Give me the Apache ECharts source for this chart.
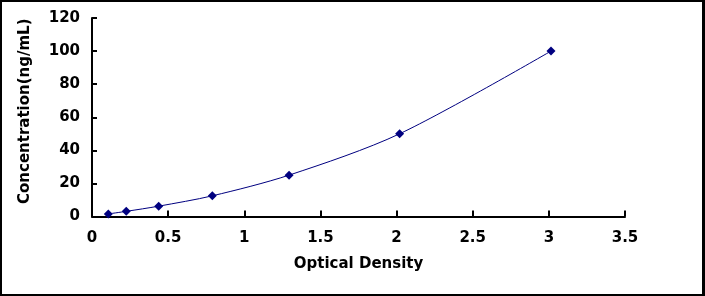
<!DOCTYPE html>
<html>
<head>
<meta charset="utf-8">
<script src="https://cdn.jsdelivr.net/npm/echarts@6/dist/echarts.min.js"></script>
<style>
html,body{margin:0;padding:0;background:#fff;}
#wrap{position:relative;width:705px;height:296px;}
#chart{position:absolute;left:0;top:0;width:705px;height:296px;}
#frame{position:absolute;left:0;top:0;width:705px;height:296px;box-sizing:border-box;border:2px solid #000;border-right-width:3px;pointer-events:none;}
</style>
</head>
<body>
<div id="wrap"><div id="chart"></div><div id="frame"></div></div>
<script>
var opticalDensity = [0.107, 0.225, 0.438, 0.79, 1.294, 2.02, 3.014];
var concentration = [1.56, 3.12, 6.25, 12.5, 25, 50, 100];
var xTitle = 'Optical Density';
var yTitle = 'Concentration(ng/mL)';

var points = opticalDensity.map(function (x, i) { return [x, concentration[i]]; });
var font = 'DejaVu Sans';
var chart = echarts.init(document.getElementById('chart'), null, {renderer: 'canvas'});
chart.setOption({
  animation: false,
  backgroundColor: '#fff',
  grid: {left: 92, right: 80, top: 18, bottom: 79.5, containLabel: false},
  xAxis: {
    type: 'value', min: 0, max: 3.5, interval: 0.5,
    name: xTitle, nameLocation: 'middle', nameGap: 40,
    nameTextStyle: {fontFamily: font, fontWeight: 'bold', fontSize: 15, color: '#000'},
    axisLine: {show: true, lineStyle: {color: '#000', width: 2}},
    axisTick: {show: true, inside: true, length: 6, lineStyle: {color: '#000', width: 2}},
    axisLabel: {fontFamily: font, fontWeight: 'bold', fontSize: 15, color: '#000', margin: 14},
    splitLine: {show: false}
  },
  yAxis: {
    type: 'value', min: 0, max: 120, interval: 20,
    name: yTitle, nameLocation: 'middle', nameGap: 59,
    nameTextStyle: {fontFamily: font, fontWeight: 'bold', fontSize: 15, color: '#000', padding: [0, 0, 0, 12]},
    axisLine: {show: true, lineStyle: {color: '#000', width: 2}},
    axisTick: {show: true, inside: true, length: 5, lineStyle: {color: '#000', width: 2}},
    axisLabel: {fontFamily: font, fontWeight: 'bold', fontSize: 15, color: '#000', margin: 12},
    splitLine: {show: false}
  },
  series: [{
    type: 'line',
    data: points,
    smooth: 0.3,
    symbol: 'diamond',
    symbolSize: 9,
    itemStyle: {color: '#000080'},
    lineStyle: {color: '#000080', width: 1}
  }]
});
</script>
</body>
</html>
